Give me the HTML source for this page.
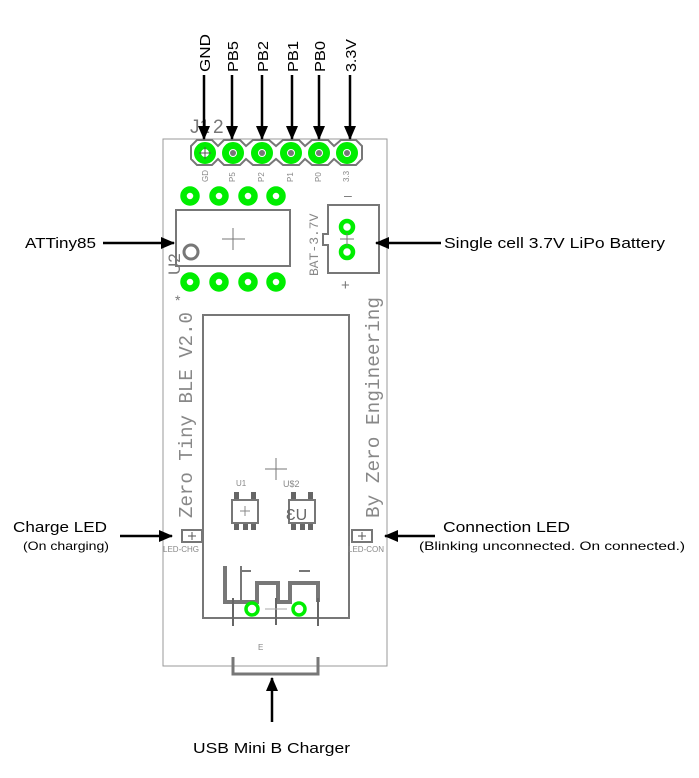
<!DOCTYPE html>
<html><head><meta charset="utf-8"><style>
html,body{margin:0;padding:0;background:#fff;width:699px;height:778px;overflow:hidden}
svg{display:block}
.lbl{font-family:"Liberation Sans",sans-serif;font-size:15px;fill:#000}
.sm{font-family:"Liberation Sans",sans-serif;font-size:12px;fill:#000}
.mono{font-family:"Liberation Mono",monospace;fill:#888}
.tiny{font-family:"Liberation Sans",sans-serif;font-size:8px;fill:#888}
</style></head><body>
<svg width="699" height="778" viewBox="0 0 699 778" xmlns="http://www.w3.org/2000/svg">
<defs>
<marker id="ah" markerWidth="14" markerHeight="12" refX="13" refY="6" orient="auto" markerUnits="userSpaceOnUse">
<path d="M0,0 L14,6 L0,12 z" fill="#000"/>
</marker>
</defs>
<!-- board -->
<rect x="163" y="139" width="224" height="527" fill="none" stroke="#999" stroke-width="1"/>
<rect x="203" y="315" width="146" height="303" fill="none" stroke="#777" stroke-width="2"/>
<!-- header outline -->
<path d="M197,140 H212 L218,146 L224,140 H240 L246,146 L253,140 H269 L276,146 L283,140 H299 L305,146 L312,140 H328 L334,146 L341,140 H356 L362,146 V159 L356,165 H341 L334,159 L328,165 H312 L305,159 L299,165 H283 L276,159 L269,165 H253 L246,159 L240,165 H224 L218,159 L212,165 H197 L191,159 V146 Z" fill="none" stroke="#777" stroke-width="2"/>
<text x="190" y="133" font-family="Liberation Sans,sans-serif" font-size="19" fill="#777">J1</text>
<text x="213" y="133" font-family="Liberation Sans,sans-serif" font-size="19" fill="#777">2</text>
<g fill="none" stroke="#0e0" stroke-width="7">
<circle cx="205" cy="153" r="7.5"/><circle cx="233" cy="153" r="7.5"/><circle cx="262" cy="153" r="7.5"/><circle cx="291" cy="153" r="7.5"/><circle cx="319" cy="153" r="7.5"/><circle cx="347" cy="153" r="7.5"/>
</g>
<g fill="#777"><circle cx="233" cy="153" r="3"/><circle cx="262" cy="153" r="3"/><circle cx="291" cy="153" r="3"/><circle cx="319" cy="153" r="3"/><circle cx="347" cy="153" r="3"/></g>
<path d="M199,153H211M205,147V159" stroke="#555" stroke-width="1"/>
<g class="tiny">
<text transform="translate(208,182) rotate(-90)">GD</text>
<text transform="translate(235,182) rotate(-90)">P5</text>
<text transform="translate(264,182) rotate(-90)">P2</text>
<text transform="translate(293,182) rotate(-90)">P1</text>
<text transform="translate(321,182) rotate(-90)">P0</text>
<text transform="translate(349,182) rotate(-90)">3.3</text>
</g>
<!-- IC -->
<g fill="none" stroke="#0e0" stroke-width="6.5">
<circle cx="190" cy="196" r="6.5"/><circle cx="219" cy="196" r="6.5"/><circle cx="248" cy="196" r="6.5"/><circle cx="276" cy="196" r="6.5"/>
<circle cx="190" cy="282" r="6.5"/><circle cx="219" cy="282" r="6.5"/><circle cx="248" cy="282" r="6.5"/><circle cx="276" cy="282" r="6.5"/>
</g>
<rect x="176" y="210" width="114" height="56" fill="none" stroke="#777" stroke-width="2"/>
<circle cx="191" cy="252" r="7" fill="none" stroke="#777" stroke-width="3"/>
<path d="M222,239H245M233,228V250" stroke="#777" stroke-width="1"/>
<text transform="translate(180,275) rotate(-90)" font-family="Liberation Sans,sans-serif" font-size="17" fill="#777">U2</text>
<text x="175" y="305" font-family="Liberation Sans,sans-serif" font-size="14" fill="#777">*</text>
<!-- battery -->
<path d="M328,205 H379 V273 H328 V245 H323 V234 H328 Z" fill="none" stroke="#777" stroke-width="2"/>
<g fill="none" stroke="#0e0" stroke-width="4.5"><circle cx="347" cy="227" r="6"/><circle cx="347" cy="252" r="6"/></g>
<path d="M340,239H354M347,233V246" stroke="#777" stroke-width="1"/>
<text transform="translate(318,276) rotate(-90)" class="mono" font-size="13">BAT-3.7V</text>
<text x="344" y="200" font-family="Liberation Sans,sans-serif" font-size="14" fill="#777">–</text>
<text x="341" y="290" font-family="Liberation Sans,sans-serif" font-size="15" fill="#777">+</text>
<!-- board text -->
<text transform="translate(192,518) rotate(-90)" class="mono" font-size="19" textLength="206" lengthAdjust="spacingAndGlyphs">Zero Tiny BLE V2.0</text>
<text transform="translate(379,518) rotate(-90)" class="mono" font-size="19" textLength="221" lengthAdjust="spacingAndGlyphs">By Zero Engineering</text>
<!-- inner parts -->
<path d="M265,469H287M276,458V480" stroke="#777" stroke-width="1"/>
<text x="236" y="486" class="tiny">U1</text>
<text x="283" y="487" font-family="Liberation Sans,sans-serif" font-size="9" fill="#888">U$2</text>
<g fill="#666">
<rect x="234" y="492" width="5" height="8"/><rect x="251" y="492" width="5" height="8"/>
<rect x="234" y="523" width="5" height="7"/><rect x="243" y="523" width="5" height="7"/><rect x="251" y="523" width="5" height="7"/>
<rect x="291" y="492" width="5" height="8"/><rect x="308" y="492" width="5" height="8"/>
<rect x="291" y="523" width="5" height="7"/><rect x="300" y="523" width="5" height="7"/><rect x="308" y="523" width="5" height="7"/>
</g>
<rect x="232" y="500" width="26" height="23" fill="none" stroke="#777" stroke-width="2"/>
<rect x="289" y="500" width="26" height="23" fill="none" stroke="#777" stroke-width="2"/>
<path d="M240,511H250M245,506V516" stroke="#888" stroke-width="1"/>
<text x="286" y="520" font-family="Liberation Sans,sans-serif" font-size="16" fill="#666">ƐU</text>
<!-- LEDs -->
<rect x="182" y="530" width="20" height="12" fill="none" stroke="#777" stroke-width="2"/>
<path d="M188,536H196M192,532V540" stroke="#555" stroke-width="1"/>
<rect x="352" y="530" width="20" height="12" fill="none" stroke="#777" stroke-width="2"/>
<path d="M358,536H366M362,532V540" stroke="#555" stroke-width="1"/>
<text x="163" y="552" class="tiny">LED-CHG</text>
<text x="348" y="552" class="tiny">LED-CON</text>
<!-- antenna -->
<path d="M225,566V602H257V583H278V602H290V583H318V602" fill="none" stroke="#777" stroke-width="4"/>
<path d="M241,566V602" stroke="#777" stroke-width="2"/>
<path d="M241,571H251M299,571H310" stroke="#777" stroke-width="2"/>
<path d="M233,598V626M276,598V625M318,598V626" stroke="#666" stroke-width="2"/>
<g fill="none" stroke="#0e0" stroke-width="3.5"><circle cx="252" cy="609" r="6"/><circle cx="299" cy="609" r="6"/></g>
<path d="M265,609H287" stroke="#aaa" stroke-width="1"/>
<text x="258" y="650" class="tiny">E</text>
<!-- usb bracket -->
<path d="M233,657V674H318V657" fill="none" stroke="#777" stroke-width="3"/>
<!-- arrows -->
<g stroke="#000" stroke-width="2.5" marker-end="url(#ah)">
<line x1="204" y1="75" x2="204" y2="139"/>
<line x1="232" y1="75" x2="232" y2="139"/>
<line x1="262" y1="75" x2="262" y2="139"/>
<line x1="292" y1="75" x2="292" y2="139"/>
<line x1="319" y1="75" x2="319" y2="139"/>
<line x1="350" y1="75" x2="350" y2="139"/>
<line x1="103" y1="243" x2="174" y2="243"/>
<line x1="441" y1="243" x2="376" y2="243"/>
<line x1="120" y1="536" x2="172" y2="536"/>
<line x1="435" y1="536" x2="385" y2="536"/>
<line x1="272" y1="722" x2="272" y2="678"/>
</g>
<g class="lbl">
<text transform="translate(210,72) rotate(-90)" textLength="38" lengthAdjust="spacingAndGlyphs">GND</text>
<text transform="translate(238,72) rotate(-90)" textLength="31" lengthAdjust="spacingAndGlyphs">PB5</text>
<text transform="translate(268,72) rotate(-90)" textLength="31" lengthAdjust="spacingAndGlyphs">PB2</text>
<text transform="translate(298,72) rotate(-90)" textLength="31" lengthAdjust="spacingAndGlyphs">PB1</text>
<text transform="translate(325,72) rotate(-90)" textLength="31" lengthAdjust="spacingAndGlyphs">PB0</text>
<text transform="translate(356,72) rotate(-90)" textLength="33" lengthAdjust="spacingAndGlyphs">3.3V</text>
<text x="25" y="248" textLength="71" lengthAdjust="spacingAndGlyphs">ATTiny85</text>
<text x="444" y="248" textLength="221" lengthAdjust="spacingAndGlyphs">Single cell 3.7V LiPo Battery</text>
<text x="13" y="532" textLength="94" lengthAdjust="spacingAndGlyphs">Charge LED</text>
<text x="443" y="532" textLength="127" lengthAdjust="spacingAndGlyphs">Connection LED</text>
<text x="193" y="753" textLength="157" lengthAdjust="spacingAndGlyphs">USB Mini B Charger</text>
</g>
<g class="sm">
<text x="23" y="550" textLength="86" lengthAdjust="spacingAndGlyphs">(On charging)</text>
<text x="419" y="550" textLength="266" lengthAdjust="spacingAndGlyphs">(Blinking unconnected. On connected.)</text>
</g>
</svg>
</body></html>
